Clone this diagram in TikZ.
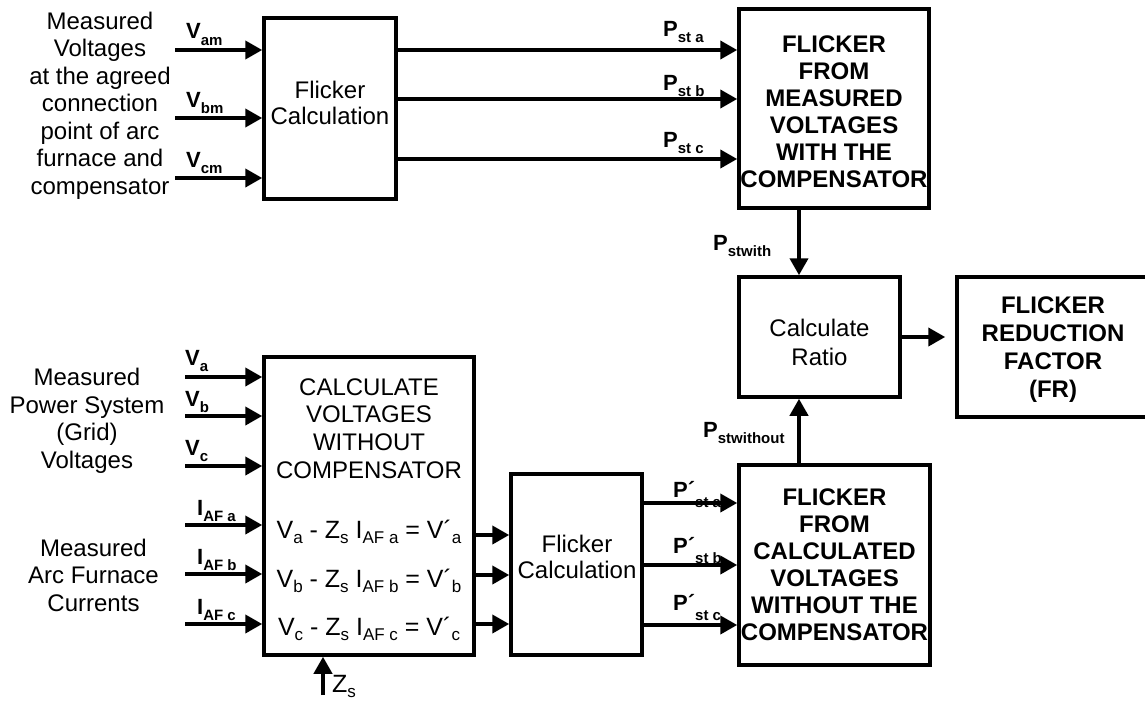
\documentclass[tikz,border=0pt]{standalone}
\usepackage{fontspec}
\setmainfont{Liberation Sans}
\usetikzlibrary{arrows.meta}
\newcommand\lbl[3][6pt]{{\fontsize{22}{22}\selectfont\bfseries #2\raisebox{-#1}{\fontsize{15}{15}\selectfont #3}}}
\newcommand\esub[1]{\raisebox{-5pt}{\fontsize{17}{17}\selectfont #1}}
\begin{document}
\begin{tikzpicture}[x=1pt,y=-1pt,
  box/.style={draw,line width=3.5pt,inner sep=0pt},
  arr/.style={line width=4pt,-{Triangle[length=17pt 0,width=18pt 0]}},
  txt/.style={align=center,inner sep=0pt,font=\fontsize{24}{27.5}\selectfont},
  btxt/.style={align=center,inner sep=0pt,font=\fontsize{24}{27}\selectfont\bfseries},
  eq/.style={anchor=base,inner sep=0pt,font=\fontsize{25}{25}\selectfont},
  lab/.style={anchor=base west,inner sep=0pt}]
\useasboundingbox (0,0) rectangle (1145,701);

% boxes
\node[box,minimum width=132pt,minimum height=181pt] (fc1) at (330,108.5) {};
\node[box,minimum width=190pt,minimum height=199pt] (fmw) at (834,108.5) {};
\node[box,minimum width=161pt,minimum height=120pt] (ratio) at (819.5,337) {};
\node[box,minimum width=190pt,minimum height=140pt] (fr) at (1052,347) {};
\node[box,minimum width=210pt,minimum height=298pt] (cv) at (369,506) {};
\node[box,minimum width=131pt,minimum height=181pt] (fc2) at (576.5,564.5) {};
\node[box,minimum width=191pt,minimum height=200pt] (fcw) at (834.5,565) {};

% texts
\node[txt] (t1) at (100,105.5) {Measured\\Voltages\\at the agreed\\connection\\point of arc\\furnace and\\compensator};
\node[txt,font=\fontsize{24}{26}\selectfont] (fc1t) at (330,103) {Flicker\\Calculation};
\node[btxt] (fmwt) at (834,112) {FLICKER\\FROM\\MEASURED\\VOLTAGES\\WITH THE\\COMPENSATOR};
\node[txt,font=\fontsize{24}{29}\selectfont] (ratiot) at (819.5,342.5) {Calculate\\Ratio};
\node[btxt,font=\fontsize{24}{28}\selectfont\bfseries] (frt) at (1053,350) {FLICKER\\REDUCTION\\FACTOR\\(FR)};
\node[txt,font=\fontsize{24}{27.7}\selectfont] (cvt) at (369,428.5) {CALCULATE\\VOLTAGES\\WITHOUT\\COMPENSATOR};
\node[eq] (eqa) at (369,538) {V\esub{a} - Z\esub{s} I\esub{AF a} = V´\esub{a}};
\node[eq] (eqb) at (369,587) {V\esub{b} - Z\esub{s} I\esub{AF b} = V´\esub{b}};
\node[eq] (eqc) at (369,635) {V\esub{c} - Z\esub{s} I\esub{AF c} = V´\esub{c}};
\node[txt,font=\fontsize{24}{26}\selectfont] (fc2t) at (577,556.5) {Flicker\\Calculation};
\node[btxt] (fcwt) at (834.5,565) {FLICKER\\FROM\\CALCULATED\\VOLTAGES\\WITHOUT THE\\COMPENSATOR};
\node[txt] (t2) at (87,421) {Measured\\Power System\\(Grid)\\Voltages};
\node[txt] (t3) at (93.5,575) {Measured\\Arc Furnace\\Currents};

% labels
\node[lab] (lvam) at (186,39) {\lbl{V}{am}};
\node[lab] (lvbm) at (186,107) {\lbl{V}{bm}};
\node[lab] (lvcm) at (186,167) {\lbl{V}{cm}};
\node[lab] (lpa) at (663,37) {\lbl{P}{st a}};
\node[lab] (lpb) at (663,90) {\lbl{P}{st b}};
\node[lab] (lpc) at (663,147) {\lbl{P}{st c}};
\node[lab] (lpw) at (713,250) {\lbl{P}{stwith}};
\node[lab] (lpwo) at (703,437) {\lbl{P}{stwithout}};
\node[lab] (lva) at (185,365) {\lbl{V}{a}};
\node[lab] (lvb) at (185,406) {\lbl{V}{b}};
\node[lab] (lvc) at (185,455) {\lbl{V}{c}};
\node[lab] (lia) at (197,515) {\lbl{I}{AF a}};
\node[lab] (lib) at (197,564) {\lbl{I}{AF b}};
\node[lab] (lic) at (197,614) {\lbl{I}{AF c}};
\node[lab] (lqa) at (673,497) {\lbl[10pt]{P´}{st a}};
\node[lab] (lqb) at (673,553) {\lbl[10pt]{P´}{st b}};
\node[lab] (lqc) at (673,610) {\lbl[10pt]{P´}{st c}};
\node[lab,font=\fontsize{25}{25}\selectfont] (lzs) at (332,692) {Z\esub{s}};

% coordinates
\coordinate (ivam) at (175,50);
\coordinate (ivbm) at (175,118);
\coordinate (ivcm) at (175,178);
\coordinate (iva) at (185,377);
\coordinate (ivb) at (185,416);
\coordinate (ivc) at (185,466);
\coordinate (iia) at (185,525);
\coordinate (iib) at (185,574);
\coordinate (iic) at (185,624);
\coordinate (zs) at (323,695);
\coordinate (xv) at (799,0);

% connectors
\foreach \c in {ivam,ivbm,ivcm} \draw[arr] (\c) -- (\c -| fc1.west);
\foreach \c in {iva,ivb,ivc,iia,iib,iic} \draw[arr] (\c) -- (\c -| cv.west);
\foreach \y in {50,99,159} \draw[arr] (fc1.east |- 0,\y) -- (fmw.west |- 0,\y);
\foreach \y in {535,575,624} \draw[arr] (cv.east |- 0,\y) -- (fc2.west |- 0,\y);
\foreach \y in {503,565,625} \draw[arr] (fc2.east |- 0,\y) -- (fcw.west |- 0,\y);
\draw[arr] (fmw.south -| xv) -- (ratio.north -| xv);
\draw[arr] (fcw.north -| xv) -- (ratio.south -| xv);
\draw[arr,shorten >=10pt] (ratio.east) -- (fr.west |- ratio.east);
\draw[arr] (zs) -- (zs |- cv.south);
\end{tikzpicture}
\end{document}
